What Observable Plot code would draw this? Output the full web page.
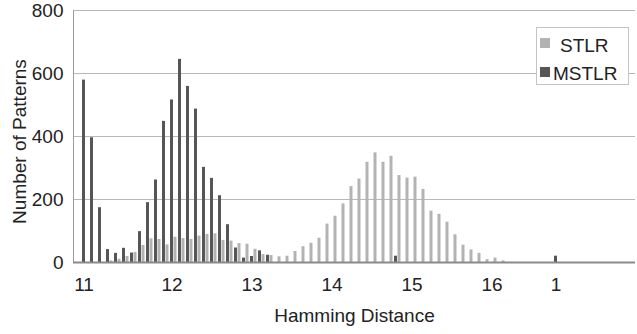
<!DOCTYPE html>
<html><head><meta charset="utf-8">
<script src="https://cdn.jsdelivr.net/npm/d3@7"></script>
<script src="https://cdn.jsdelivr.net/npm/@observablehq/plot@0.6"></script>
<style>
body{margin:0;background:#fff;}
#wrap{position:relative;width:637px;height:334px;font-family:"Liberation Sans",Arial,sans-serif;}
#legend{position:absolute;left:536px;top:27px;width:91px;height:56px;border:1px solid #c4c4c4;background:#fff;}
#legend .sw{position:absolute;width:10px;height:10px;}
#legend .lb{position:absolute;font-size:19px;line-height:19px;color:#222;white-space:nowrap;}
</style></head><body><div id="wrap"></div>
<script>
// Series values (index = category position along the Hamming-distance axis)
const mstlr = [579,396,174,41,29,45,30,98,190,262,448,516,645,559,487,302,267,212,120,46,14,19,37,23,
  0,0,0,0,0,0,0,0,0,0,0,0,0,0,0,20,0,0,0,0,0,0,0,0,0,0,0,0,0,0,0,0,0,0,0,20,0,0,0,0,0,0,0,0];
const stlr = [0,0,0,5,10,19,32,54,75,73,56,80,76,73,84,89,91,70,68,60,58,42,25,22,18,20,35,50,61,77,
  122,147,186,241,265,318,348,318,337,276,268,271,232,163,153,128,88,55,40,29,9,14,5,0,0,0,0,0,0,0,0,0,0,0,0,0,0,0];
const tickIdx = [0,11,21,31,41,51,59];
const tickLabels = ["11","12","13","14","15","16","1"];
const yTicks = [0,200,400,600,800];
const seriesNames = ["STLR","MSTLR"];
const seriesColors = ["#b3b3b3","#565656"];

const idx = d3.range(mstlr.length);
const rows = idx.map(i => ({i, s: stlr[i], m: mstlr[i]}));

const chart = Plot.plot({
  width: 637, height: 334,
  marginLeft: 73, marginRight: 2, marginTop: 10, marginBottom: 72,
  style: {fontFamily: "'Liberation Sans', Arial, sans-serif", fontSize: "19px", color: "#222", background: "#fff", overflow: "visible"},
  x: {type: "band", domain: idx, paddingInner: 0.6, paddingOuter: 0.8, align: 0.41},
  y: {domain: [0, 800]},
  marks: [
    Plot.ruleY(yTicks.slice(1), {stroke: "#b8b8b8", strokeWidth: 1}),
    Plot.barY(rows, {x: "i", y: "m", fill: seriesColors[1]}),
    Plot.barY(rows, {x: "i", y: "s", fill: seriesColors[0], dx: 3.5}),
    Plot.frame({anchor: "left", stroke: "#9a9a9a"}),
    Plot.ruleY([0], {stroke: "#8a8a8a", strokeWidth: 2}),
    Plot.axisX({ticks: tickIdx, tickFormat: d => tickLabels[tickIdx.indexOf(d)], tickSize: 0, tickPadding: 15, label: null}),
    Plot.axisY({ticks: yTicks, tickSize: 0, tickPadding: 10, label: null}),
    Plot.text(["Hamming Distance"], {text: d => d, frameAnchor: "bottom", dy: 53, lineAnchor: "middle", textAnchor: "middle", fill: "#222"}),
    Plot.text(["Number of Patterns"], {text: d => d, frameAnchor: "left", rotate: -90, dx: -54, dy: 5, lineAnchor: "middle", textAnchor: "middle", fill: "#222"})
  ]
});
const wrap = document.getElementById("wrap");
wrap.appendChild(chart);

// Legend
const lg = document.createElement("div");
lg.id = "legend";
const items = [
  {name: seriesNames[0], color: seriesColors[0], sx: 3, sy: 10, tx: 23, ty: 8},
  {name: seriesNames[1], color: seriesColors[1], sx: 3, sy: 39, tx: 16, ty: 36}
];
for (const it of items) {
  const sw = document.createElement("div");
  sw.className = "sw"; sw.style.left = it.sx + "px"; sw.style.top = it.sy + "px"; sw.style.background = it.color;
  const lb = document.createElement("div");
  lb.className = "lb"; lb.style.left = it.tx + "px"; lb.style.top = it.ty + "px"; lb.textContent = it.name;
  lg.appendChild(sw); lg.appendChild(lb);
}
wrap.appendChild(lg);
</script></body></html>
